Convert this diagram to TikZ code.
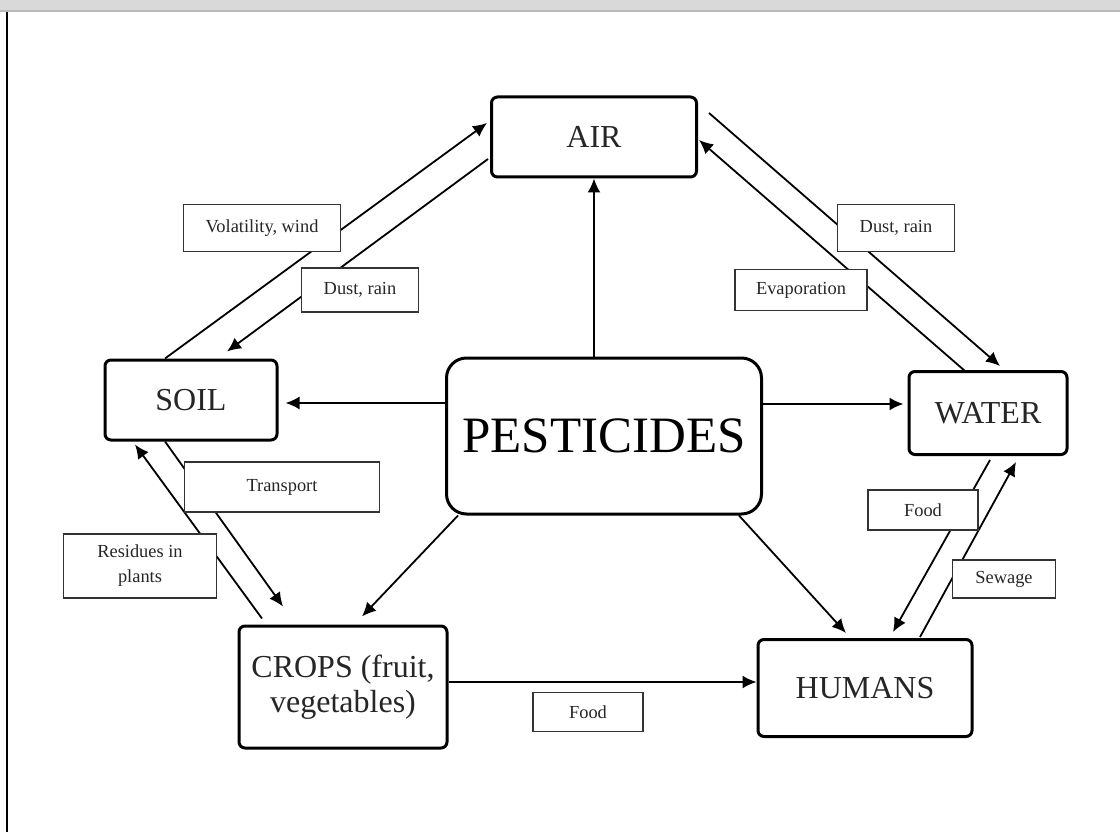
\documentclass[tikz,border=0pt]{standalone}
\usepackage{fontspec}
\setmainfont{Liberation Serif}
\usetikzlibrary{calc,arrows.meta,positioning}

\tikzset{
  mainbox/.style={draw, line width=1.5pt, rounded corners=3pt, fill=white,
    text=black!85, align=center, font=\fontsize{16}{17.5}\selectfont},
  lbl/.style={draw=black!80, line width=0.7pt, fill=white, text=black!85,
    inner sep=1pt, font=\fontsize{9.2}{12.5}\selectfont},
  conn/.style={line width=0.9pt, -{Latex[length=7pt,width=6.5pt]}}
}

\begin{document}
\begin{tikzpicture}[x=0.5pt,y=0.5pt]
  \useasboundingbox (0,0) rectangle (1120,832);
  \fill[black!15] (0,822) rectangle (1120,832);
  \fill[black!27] (0,820) rectangle (1120,822);
  \draw[line width=1pt] (7,820) -- (7,0);

  \node[mainbox, minimum width=102.5pt, minimum height=40pt] (air) at (594,695) {AIR};
  \node[mainbox, minimum width=157.5pt, minimum height=78pt, rounded corners=10pt,
    text=black, font=\fontsize{25.5}{28}\selectfont] (pest) at (604,396) {PESTICIDES};
  \node[mainbox, minimum width=86pt, minimum height=40pt] (soil) at (191,432) {SOIL};
  \node[mainbox, minimum width=79pt, minimum height=41.5pt] (water) at (988,419) {WATER};
  \node[mainbox, minimum width=104pt, minimum height=61pt] (crops) at (343,145) {CROPS (fruit,\\vegetables)};
  \node[mainbox, minimum width=107pt, minimum height=48.5pt] (humans) at (865,144) {HUMANS};

  \draw[conn] (pest.north -| air.south) -- (air.south);
  \draw[conn] ($(pest.west)+(0,33)$) -- ($(soil.east)+(7,-3)$);
  \draw[conn] ($(pest.east)+(0,32)$) -- ($(water.west)+(-4,9)$);
  \draw[conn] ($(pest.south west)+(13,0)$) -- ($(crops.north)+(19,8)$);
  \draw[conn] ($(pest.south east)+(-24,0)$) -- ($(humans.north)+(-19,5)$);
  \draw[conn] ($(crops.east)+(0,5)$) -- ($(humans.west)+(0,6)$);

  \draw[conn] ($(soil.north)+(-26,0)$) -- ($(air.west)+(-3,14)$);
  \draw[conn] ($(air.west)+(-2,-22)$) -- ($(soil.north)+(36,7)$);
  \draw[conn] ($(air.east)+(11,24)$) -- ($(water.north)+(12,4)$);
  \draw[conn] ($(water.north)+(-23,-1)$) -- ($(air.east)+(1,-3)$);
  \draw[conn] ($(crops.north)+(-81,6)$) -- ($(soil.south)+(-56,-3)$);
  \draw[conn] ($(soil.south)+(-26,0)$) -- ($(crops.north)+(-60,18)$);
  \draw[conn] ($(water.south)+(2,-4)$) -- ($(humans.north)+(28,6)$);
  \draw[conn] ($(humans.north)+(55,1)$) -- ($(water.south)+(28,-6)$);

  \node[lbl, minimum width=78.5pt, minimum height=23.5pt] (volat) at (262,604) {Volatility, wind};
  \node[lbl, minimum width=58.5pt, minimum height=22pt] (dustl) at (360,542) {Dust, rain};
  \node[lbl, minimum width=58.5pt, minimum height=23.5pt] (dustr) at (896,604) {Dust, rain};
  \node[lbl, minimum width=66pt, minimum height=20.5pt] (evap) at (801,542) {Evaporation};
  \node[lbl, minimum width=97.5pt, minimum height=25pt] (transp) at (282,345) {Transport};
  \node[lbl, minimum width=76.5pt, minimum height=32pt, align=center] (resid) at (140,266) {Residues in\\plants};
  \node[lbl, minimum width=55pt, minimum height=20pt] (foodr) at (923,322) {Food};
  \node[lbl, minimum width=51.5pt, minimum height=19pt] (sewage) at (1004,253) {Sewage};
  \node[lbl, minimum width=55pt, minimum height=19.5pt] (foodb) at (588,120) {Food};
\end{tikzpicture}
\end{document}
